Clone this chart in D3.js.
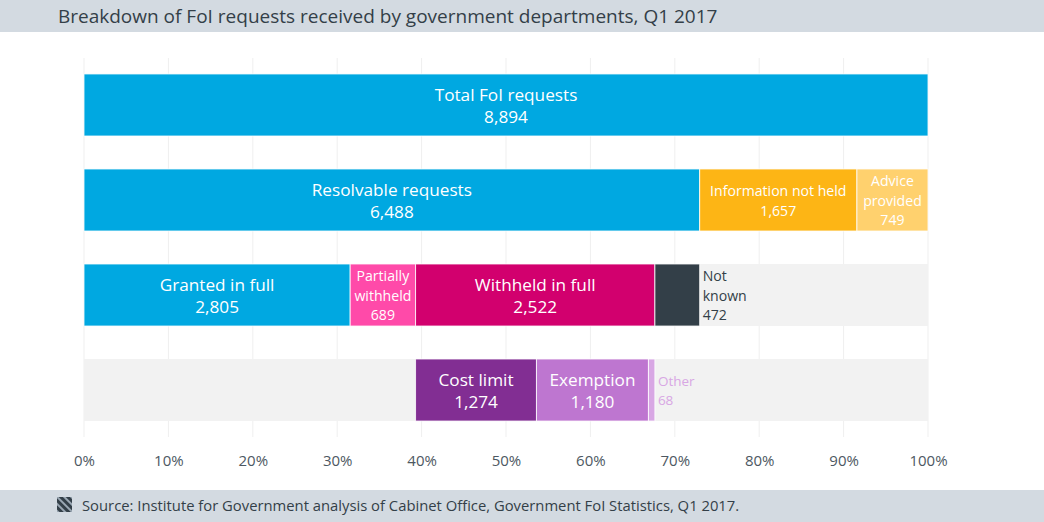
<!DOCTYPE html>
<html>
<head>
<meta charset="utf-8">
<title>FoI requests Q1 2017</title>
<style>
  body { margin:0; background:#fff; font-family:"Open Sans", "Noto Sans", sans-serif; }
  svg text { font-family:"Open Sans", "Noto Sans", sans-serif; }
</style>
</head>
<body>
<div id="chart"></div>
<script src="https://d3js.org/d3.v7.min.js"></script>
<script>
// data
var categories = ["Total FoI requests", "Resolvable requests", "Information not held", "Advice provided",
                  "Granted in full", "Partially withheld", "Withheld in full", "Not known",
                  "Cost limit", "Exemption", "Other"];
var values = [8894, 6488, 1657, 749, 2805, 689, 2522, 472, 1274, 1180, 68];
var rowOf = [0, 1, 1, 1, 2, 2, 2, 2, 3, 3, 3];
var rows = [0, 1, 2, 3];
var tickValues = [0, 10, 20, 30, 40, 50, 60, 70, 80, 90, 100];

var title = "Breakdown of FoI requests received by government departments, Q1 2017";
var source = "Source: Institute for Government analysis of Cabinet Office, Government FoI Statistics, Q1 2017.";

// styling
var colors = {
  "Total FoI requests": "#00a8e1", "Resolvable requests": "#00a8e1",
  "Information not held": "#fdb515", "Advice provided": "#ffd16e",
  "Granted in full": "#00a8e1", "Partially withheld": "#ff4aa9",
  "Withheld in full": "#d2006e", "Not known": "#333f48",
  "Cost limit": "#822e93", "Exemption": "#be76d0", "Other": "#d8a7e4"
};
// label lines, size, placement
var labelStyle = {
  "Total FoI requests":  {lines: ["Total FoI requests"], size: 17.2},
  "Resolvable requests": {lines: ["Resolvable requests"], size: 17.2},
  "Information not held": {lines: ["Information not held"], size: 14.1},
  "Advice provided":     {lines: ["Advice", "provided"], size: 14.1},
  "Granted in full":     {lines: ["Granted in full"], size: 17.2},
  "Partially withheld":  {lines: ["Partially", "withheld"], size: 14.1},
  "Withheld in full":    {lines: ["Withheld in full"], size: 17.2},
  "Not known":           {lines: ["Not", "known"], size: 14.1, outside: true, fill: "#333f48"},
  "Cost limit":          {lines: ["Cost limit"], size: 17.2},
  "Exemption":           {lines: ["Exemption"], size: 17.2},
  "Other":               {lines: ["Other"], size: 13.5, outside: true, fill: "#d8a7e4"}
};

var W = 1044, H = 522;
var svg = d3.select("#chart").append("svg").attr("width", W).attr("height", H);

// header and footer bands
svg.append("rect").attr("x", 0).attr("y", 0).attr("width", W).attr("height", 32).attr("fill", "#d3dae1");
svg.append("text").attr("x", 58).attr("y", 23).attr("fill", "#333f48")
  .style("font-size", "19px").text(title);

svg.append("rect").attr("x", 0).attr("y", 490).attr("width", W).attr("height", 32).attr("fill", "#d3dae1");
var defs = svg.append("defs");
var pat = defs.append("pattern").attr("id", "hatch").attr("patternUnits", "userSpaceOnUse")
  .attr("width", 5).attr("height", 5).attr("patternTransform", "rotate(-45)");
pat.append("rect").attr("width", 5).attr("height", 5).attr("fill", "#9aa7b3");
pat.append("rect").attr("width", 3).attr("height", 5).attr("fill", "#333f48");
svg.append("rect").attr("x", 57).attr("y", 497).attr("width", 15).attr("height", 15).attr("fill", "url(#hatch)");
svg.append("text").attr("x", 82).attr("y", 511).attr("fill", "#333f48")
  .style("font-size", "14.8px").text(source);

// scales
var total = values[0];
var x = d3.scaleLinear().domain([0, 100]).range([84, 928]);
var y = d3.scaleBand().domain(rows).range([58, 437]).paddingInner(0.347).paddingOuter(0.168);

// gridlines
svg.append("g").selectAll("line").data(tickValues).join("line")
  .attr("x1", function(d) { return x(d); }).attr("x2", function(d) { return x(d); })
  .attr("y1", 58).attr("y2", 437)
  .attr("stroke", "#efefef").attr("stroke-width", 1);

// axis
var axis = svg.append("g").attr("transform", "translate(0,437)")
  .call(d3.axisBottom(x).tickValues(tickValues).tickSize(0).tickPadding(18)
        .tickFormat(function(d) { return d + "%"; }));
axis.select(".domain").remove();
axis.selectAll("text").attr("fill", "#4d5862").style("font-size", "15px");

// grey backgrounds for the breakdown rows
svg.append("g").selectAll("rect").data([2, 3]).join("rect")
  .attr("x", x(0)).attr("width", x(100) - x(0))
  .attr("y", function(d) { return y(d); }).attr("height", y.bandwidth())
  .attr("fill", "#f2f2f2");

// build segments with start offsets
var startOf = {0: 0, 1: 0, 2: 0, 3: values[4] + values[5]};
var segs = categories.map(function(c, i) {
  var r = rowOf[i];
  var s = startOf[r];
  startOf[r] += values[i];
  return {name: c, value: values[i], row: r, start: s};
});
function pct(v) { return v / total * 100; }

var g = svg.append("g");
g.selectAll("rect").data(segs).join("rect")
  .attr("x", function(d) { return x(pct(d.start)); })
  .attr("width", function(d) { return x(pct(d.start + d.value)) - x(pct(d.start)); })
  .attr("y", function(d) { return y(d.row); })
  .attr("height", y.bandwidth())
  .attr("fill", function(d) { return colors[d.name]; })
  .attr("stroke", "#fff").attr("stroke-opacity", 0.8).attr("stroke-width", 1);

// labels
var fmt = d3.format(",");
segs.forEach(function(d) {
  var st = labelStyle[d.name];
  var lines = st.lines.concat([fmt(d.value)]);
  var lh = st.size >= 16 ? 22 : 19.5;
  var cy = y(d.row) + y.bandwidth() / 2 + 1;
  var tx, anchor;
  if (st.outside) {
    tx = x(pct(d.start + d.value)) + 3; anchor = "start";
  } else {
    tx = (x(pct(d.start)) + x(pct(d.start + d.value))) / 2; anchor = "middle";
  }
  var t = g.append("text").attr("text-anchor", anchor)
    .attr("fill", st.fill || "#fff").style("font-size", st.size + "px");
  lines.forEach(function(l, k) {
    t.append("tspan").attr("x", tx)
      .attr("y", cy + (k - (lines.length - 1) / 2) * lh)
      .attr("dy", "0.35em").text(l);
  });
});
</script>
</body>
</html>
